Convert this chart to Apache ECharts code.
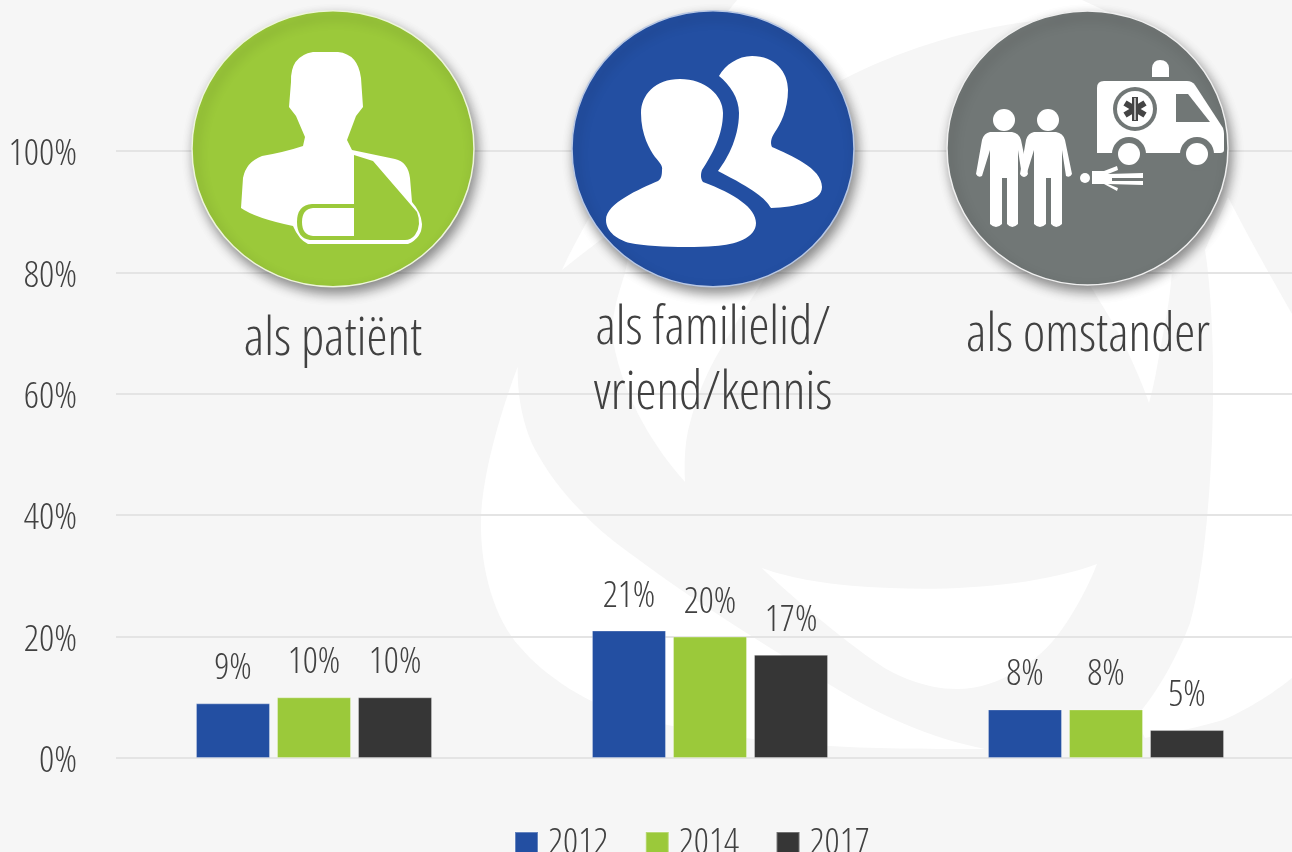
<!DOCTYPE html>
<html>
<head>
<meta charset="utf-8">
<title>chart</title>
<script src="https://cdn.jsdelivr.net/npm/echarts@6/dist/echarts.min.js"></script>
<style>
  html, body { margin: 0; padding: 0; background: #f6f6f6; }
  #main { width: 1292px; height: 852px; }
</style>
</head>
<body>
<div id="main"></div>
<script>
const categories = ['als patiënt', 'als familielid/\nvriend/kennis', 'als omstander'];
const yTicks = [0, 20, 40, 60, 80, 100];
const years = ['2012', '2014', '2017'];
const values2012 = [9, 21, 8];
const values2014 = [10, 20, 8];
const values2017 = [10, 17, 4.6];

const FONT = '"Open Sans", sans-serif';
const FONT_WEIGHT = '300 condensed';  // smalle letter, via de font shorthand
const TEXT_COLOR = '#414141';
const BLUE = '#234fa2';
const GREEN = '#9bc93a';
const DARK = '#363636';
const GREY = '#717776';

// losse svg paden, in pixels van de pagina
const shapes = {
  wmCrescent: 'M517.7 366.7 C505 400 482 470 481 520 C480 570 495 620 520 647 C545 677 590 705 630 716 C680 730 760 742 830 746 C880 749 940 749 985 749 C930 738 880 716 827 683 C790 660 720 618 657 573 C630 553 605 537 583 513 C570 500 552 480 537 453 C525 432 517 400 517.7 366.7 Z',
  wmLeaf: 'M761.7 568 C790 578 830 586 890 588 C960 591 1040 585 1097 564 C1085 595 1067 623 1060 632 C1040 660 1000 689 957 689 C925 689 895 675 880 665 C840 638 790 595 761.7 568 Z',
  wmTop: 'M737 0 L1082 0 L1125 20 C1090 18 1050 18 1018 23 C960 32 900 50 842 80 C760 125 650 200 562 270 C600 190 680 70 737 0 Z',
  wmMid: 'M640 200 L625 273 C618 295 610 320 613 340 C618 370 630 400 643 423 C655 445 670 465 685 482 C684 460 685 440 690 423 C697 395 708 370 720 350 C735 325 750 300 770 270 Z',
  wmLow: 'M1060 240 L1091 287 C1105 310 1118 330 1127 350 C1135 368 1143 385 1149 403 C1154 385 1157 368 1160 350 C1165 325 1170 300 1172 270 Z',
  wmRight: 'M1205 250 L1228 197 C1250 240 1270 275 1292 314 L1292 678 C1265 700 1235 715 1223 720 C1200 727 1170 733 1145 738 L1135 718 C1160 690 1180 650 1190 623 C1205 570 1212 480 1213 400 C1214 340 1210 280 1205 250 Z',

  patient: 'M313 52 Q290 56 291 82 L289 107 L296 116 L305 137 L303 146 Q285 152 262 156 Q246 162 243 178 L241 208 Q255 218 293 226 Q299 240 308 244 L408 244 Q422 238 422 224 Q421 212 412 202 L410 178 Q408 162 395 159 L352 150 L347 140 L356 116 L363 107 L361 78 Q358 54 338 52 Z',
  sling: 'M354 155 L373 161 L417 212 Q422 225 415 235 Q411 240 405 240 L310 240 Q297 238 297 222 Q297 205 312 204 L354 204 Z',
  slingInner: 'M354 208 L313 208 Q302 209 302 222 Q302 235 313 236 L354 236 Z',

  friendFront: 'M680 79 C655 79 641 95 641 113 C641 135 650 150 655 157 C660 163 663 166 662 170 C662 176 661 179 658 181 C640 189 606 203 606 220 C606 232 618 240 630 243 C650 247 690 248 715 246 C735 245 756 238 756 223 C756 208 735 194 703 182 C700 178 701 173 702 170 C712 155 723 135 723 113 C723 95 705 79 680 79 Z',
  friendBack: 'M719 76 C725 65 738 56 752 56 C775 56 788 72 788 90 C788 110 780 125 775 132 C771 138 770 143 772 147 C790 155 822 168 822 187 C822 202 795 207 771 208 C765 198 755 190 718 171 C725 162 739 140 739 113 C739 98 730 85 719 76 Z',

  man: 'M990 132 L1012 132 Q1019 133 1021 140 L1028 174 Q1026 178 1022 176 L1018 150 L1018 224 Q1012 230 1007 224 L1007 178 L1002 178 L1002 224 Q996 230 990 224 L990 150 L982 176 Q978 178 976 174 L982 140 Q984 133 990 132 Z',
  lying: 'M1092 171 L1104 171 L1117 166 L1118 170 L1108 174 L1143 173 L1143 178 L1112 178 L1112 181 L1143 181 L1143 185 L1108 184 L1118 188 L1117 191 L1104 184 L1092 184 Z',
  ambulance: 'M1097 88 Q1097 81 1104 81 L1187 81 Q1192 81 1195 85 L1223 128 Q1224 131 1224 134 L1224 150 Q1224 153 1220 153 L1097 153 Q1097 153 1097 150 Z',
  ambuWindow: 'M1176 94 L1188 94 L1210 122 L1176 122 Z',
  beacon: 'M1152 77 L1152 68 Q1153 60 1160 60 Q1168 60 1169 68 L1169 77 Z',
};
Object.keys(shapes).forEach((name) => {
  echarts.graphic.registerShape(name, echarts.graphic.extendPath(shapes[name]));
});

const myChart = echarts.init(document.getElementById('main'));

function seriesOf(name, data, color) {
  return {
    name,
    type: 'bar',
    data,
    barWidth: 74,
    barGap: '9.5%',
    itemStyle: { color, borderColor: 'rgba(255,255,255,0.3)', borderWidth: 1 },
    label: {
      show: true,
      position: 'top',
      distance: 16,
      fontFamily: FONT,
      fontWeight: FONT_WEIGHT,
      fontSize: 37,
      color: TEXT_COLOR,
      formatter: (p) => `${Math.round(p.value)}%`,
    },
  };
}

function wm(type) {
  return { type, z: -10, silent: true, style: { fill: '#fff' } };
}

function icon(type, fill) {
  return { type, z: 12, silent: true, style: { fill: fill || '#fff' } };
}

// de ronde plaatjes zijn in het origineel iets platgedrukt
function badge(cx, cy, rx, ry, fill, border) {
  return {
    type: 'ellipse',
    z: 10,
    silent: true,
    shape: { cx, cy, rx, ry },
    style: {
      fill,
      stroke: border,
      lineWidth: 1.5,
      shadowBlur: 12,
      shadowOffsetX: 3,
      shadowOffsetY: 6,
      shadowColor: 'rgba(0,0,0,0.45)',
    },
  };
}

function dot(cx, cy, r, fill) {
  return { type: 'circle', z: 12, silent: true, shape: { cx, cy, r }, style: { fill: fill || '#fff' } };
}

function bar(x1, y1, x2, y2, width, color, z) {
  return {
    type: 'line',
    z: z || 14,
    silent: true,
    shape: { x1, y1, x2, y2 },
    style: { stroke: color, lineWidth: width },
  };
}

function caption(text, x, y) {
  return {
    type: 'text',
    z: 12,
    x,
    y,
    style: {
      text,
      fontFamily: FONT,
      fontWeight: FONT_WEIGHT,
      fontSize: 53,
      fill: TEXT_COLOR,
      align: 'center',
      verticalAlign: 'middle',
    },
  };
}

const captionLines = categories[1].split('\n');

const option = {
  backgroundColor: '#f6f6f6',
  animation: false,
  textStyle: { fontFamily: FONT },
  grid: { left: 116, top: 151, width: 1188, height: 607, outerBoundsMode: 'none' },
  legend: {
    data: years,
    left: 514,
    top: 825,
    padding: 0,
    itemWidth: 23,
    itemHeight: 23,
    itemGap: 36.5,
    icon: 'rect',
    textStyle: {
      fontFamily: FONT,
      fontWeight: FONT_WEIGHT,
      fontSize: 37,
      color: TEXT_COLOR,
      padding: [0, 0, 0, 5],
      verticalAlign: 'bottom',
      lineHeight: 6,
    },
  },
  xAxis: {
    type: 'category',
    data: categories,
    axisLabel: { show: false },
    axisLine: { show: false },
    axisTick: { show: false },
  },
  yAxis: {
    type: 'value',
    min: yTicks[0],
    max: yTicks[yTicks.length - 1],
    interval: yTicks[1] - yTicks[0],
    axisLine: { show: false },
    axisTick: { show: false },
    splitLine: { show: true, lineStyle: { color: '#e4e4e4', width: 2 } },
    axisLabel: {
      margin: 39,
      verticalAlign: 'top',
      lineHeight: 7,
      fontFamily: FONT,
      fontWeight: FONT_WEIGHT,
      fontSize: 37.5,
      color: TEXT_COLOR,
      formatter: '{value}%',
    },
  },
  graphic: {
    elements: [
      wm('wmCrescent'), wm('wmLeaf'), wm('wmTop'), wm('wmMid'), wm('wmLow'), wm('wmRight'),

      badge(333, 148.7, 141, 138, GREEN, '#eef5dc'),
      icon('patient'),
      icon('sling', GREEN),
      icon('slingInner'),

      badge(713, 148.7, 141, 138, BLUE, '#b9c8e4'),
      icon('friendBack'),
      icon('friendFront'),

      badge(1087.5, 147.9, 140.5, 137, GREY, '#f0f0f0'),
      dot(1004, 120, 11),
      dot(1048, 120, 11),
      icon('man'),
      { type: 'man', z: 12, silent: true, x: 44, style: { fill: '#fff' } },
      dot(1085, 178, 5),
      icon('lying'),
      icon('ambulance'),
      icon('ambuWindow', GREY),
      icon('beacon'),
      dot(1129, 154, 17, GREY),
      dot(1129, 154, 11),
      dot(1197, 154, 17, GREY),
      dot(1197, 154, 11),
      dot(1135, 109, 22, GREY),
      dot(1135, 109, 18),
      bar(1135, 97, 1135, 121, 6, '#444'),
      bar(1125, 103, 1145, 115, 6, '#444'),
      bar(1145, 103, 1125, 115, 6, '#444'),
      bar(1135, 98, 1135, 120, 1.5, '#ddd', 15),

      caption(categories[0], 333, 340),
      caption(captionLines[0], 713, 329),
      caption(captionLines[1], 713, 394),
      caption(categories[2], 1088, 336),
    ],
  },
  series: [
    seriesOf(years[0], values2012, BLUE),
    seriesOf(years[1], values2014, GREEN),
    seriesOf(years[2], values2017, DARK),
  ],
};

myChart.setOption(option);
</script>
</body>
</html>
